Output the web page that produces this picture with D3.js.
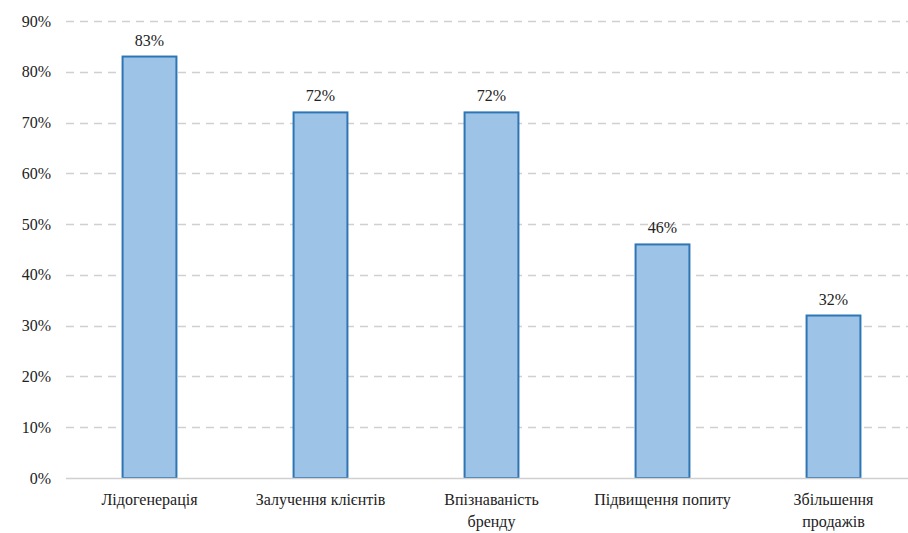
<!DOCTYPE html>
<html>
<head>
<meta charset="utf-8">
<script src="https://cdn.jsdelivr.net/npm/d3@7"></script>
<style>
  body { margin: 0; background: #fff; font-family: "Liberation Serif", "Times New Roman", serif; }
</style>
</head>
<body>
<div id="chart"></div>
<script>
const width = 908;
const height = 533;

// Chart data
const categories = ["Лідогенерація", "Залучення клієнтів", "Впізнаваність бренду", "Підвищення попиту", "Збільшення продажів"];
const categoryLines = [["Лідогенерація"], ["Залучення клієнтів"], ["Впізнаваність", "бренду"], ["Підвищення попиту"], ["Збільшення", "продажів"]];
const values = [83, 72, 72, 46, 32];
const yTicks = [0, 10, 20, 30, 40, 50, 60, 70, 80, 90];

const font = "16px 'Liberation Serif', 'Times New Roman', serif";

const x = d3.scaleBand()
    .domain(categories)
    .range([64, 919]);

const y = d3.scaleLinear()
    .domain([0, 90])
    .range([478, 21]);

const barWidth = x.bandwidth() * 0.315;

const svg = d3.select("#chart")
  .append("svg")
    .attr("width", width)
    .attr("height", height)
    .style("display", "block");

// dashed gridlines
svg.append("g")
  .selectAll("line")
  .data(yTicks.filter(d => d > 0))
  .join("line")
    .attr("x1", 66)
    .attr("x2", width)
    .attr("y1", d => Math.round(y(d)) + 0.5)
    .attr("y2", d => Math.round(y(d)) + 0.5)
    .attr("stroke", "#d0d0d0")
    .attr("stroke-width", 1.3)
    .attr("stroke-dasharray", "8,6");

// y tick labels
svg.append("g")
  .attr("text-anchor", "end")
  .selectAll("text")
  .data(yTicks)
  .join("text")
    .style("font", font)
    .style("fill", "#222")
    .attr("x", 51)
    .attr("y", d => y(d))
    .attr("dy", "0.35em")
    .text(d => d + "%");

// bars
svg.append("g")
  .selectAll("rect")
  .data(values)
  .join("rect")
    .attr("x", (d, i) => x(categories[i]) + (x.bandwidth() - barWidth) / 2)
    .attr("y", d => y(d))
    .attr("width", barWidth)
    .attr("height", d => y(0) - y(d))
    .attr("fill", "#9dc3e6")
    .attr("stroke", "#2e75b6")
    .attr("stroke-width", 2);

// baseline
svg.append("line")
  .attr("x1", 66)
  .attr("x2", width)
  .attr("y1", Math.round(y(0)) + 0.5)
  .attr("y2", Math.round(y(0)) + 0.5)
  .attr("stroke", "#d0d0d0")
  .attr("stroke-width", 1.5);

// value labels
svg.append("g")
  .attr("text-anchor", "middle")
  .selectAll("text")
  .data(values)
  .join("text")
    .style("font", font)
    .style("fill", "#222")
    .attr("x", (d, i) => x(categories[i]) + x.bandwidth() / 2)
    .attr("y", d => y(d) - 11)
    .text(d => d + "%");

// category labels
const cat = svg.append("g")
  .attr("text-anchor", "middle")
  .selectAll("text")
  .data(categories)
  .join("text")
    .style("font", font)
    .style("fill", "#222")
    .attr("x", d => x(d) + x.bandwidth() / 2)
    .attr("y", 505);

cat.selectAll("tspan")
  .data((d, i) => categoryLines[i])
  .join("tspan")
    .attr("x", function() { return this.parentNode.getAttribute("x"); })
    .attr("dy", (d, j) => j === 0 ? 0 : 22)
    .text(d => d);
</script>
</body>
</html>
